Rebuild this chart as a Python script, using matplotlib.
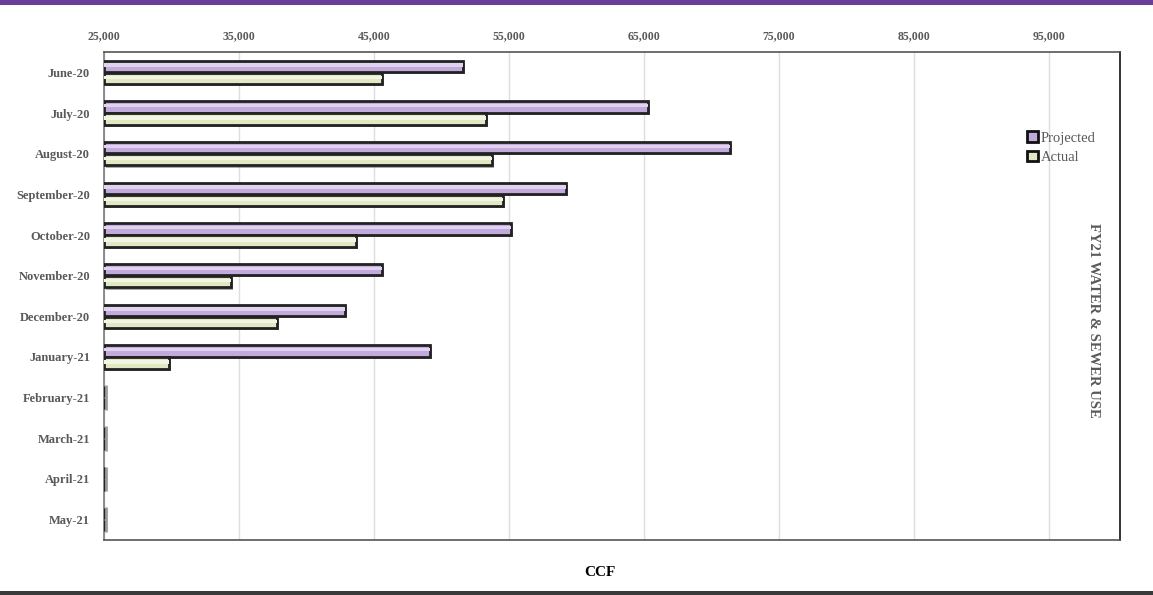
import numpy as np
import matplotlib
matplotlib.use("Agg")
import matplotlib.pyplot as plt
import matplotlib.patheffects as pe
from matplotlib.ticker import FuncFormatter

months = ["June-20", "July-20", "August-20", "September-20", "October-20",
          "November-20", "December-20", "January-21", "February-21",
          "March-21", "April-21", "May-21"]
projected = [51600, 65300, 71370, 59200, 55150, 45600, 42850, 49150, 0, 0, 0, 0]
actual = [45600, 53300, 53740, 54550, 43670, 34400, 37800, 29800, 0, 0, 0, 0]
x_ticks = [25000, 35000, 45000, 55000, 65000, 75000, 85000, 95000]

base = 25000
serif = ["Liberation Serif", "DejaVu Serif"]
grey_txt = "#595959"

fig = plt.figure(figsize=(11.53, 5.95), dpi=100)
ax = fig.add_axes([104 / 1153, 1 - 540 / 595, 1016 / 1153, 488 / 595])

y = np.arange(len(months))
h = 0.28
off = 0.15
shadow = [pe.SimplePatchShadow(offset=(1.5, -1.5), alpha=0.45), pe.Normal()]

p_w = [max(v - base, 0) for v in projected]
a_w = [max(v - base, 0) for v in actual]
bp = ax.barh(y - off, p_w, height=h, left=base, color="#c2abdc",
             edgecolor="#222222", linewidth=2, label="Projected", zorder=3)
ba = ax.barh(y + off, a_w, height=h, left=base, color="#e2e7c4",
             edgecolor="#222222", linewidth=2, label="Actual", zorder=3)
for b in list(bp) + list(ba):
    b.set_path_effects(shadow)

# light highlight strip inside each bar
ax.barh(y - off - 0.03, p_w, height=h * 0.3, left=base, color="#e0d3ef",
        linewidth=0, zorder=4)
ax.barh(y + off - 0.03, a_w, height=h * 0.3, left=base, color="#f3f5e4",
        linewidth=0, zorder=4)

# stubs for months without data
for i in range(len(months)):
    if projected[i] == 0:
        ax.plot([base + 120, base + 120], [i - 0.3, i + 0.3], color="#9a9a9a",
                lw=2, zorder=3, solid_capstyle="butt")

ax.set_xlim(base, 100250)
ax.set_ylim(len(months) - 0.5, -0.5)
ax.set_xticks(x_ticks)
ax.xaxis.set_major_formatter(FuncFormatter(lambda v, p: f"{int(v):,}"))
ax.xaxis.tick_top()
ax.tick_params(axis="x", length=0, pad=7, labelsize=8.5, labelcolor=grey_txt)
ax.tick_params(axis="y", length=0, pad=10, labelsize=9, labelcolor=grey_txt)
ax.set_yticks(y)
ax.set_yticklabels(months)
for t in ax.get_xticklabels() + ax.get_yticklabels():
    t.set_fontfamily(serif)
    t.set_fontweight("bold")

ax.grid(axis="x", color="#dedede", lw=1, zorder=0)
ax.set_axisbelow(True)
ax.spines["left"].set_color("#7a7a7a")
ax.spines["top"].set_color("#555555")
ax.spines["right"].set_color("#111111")
ax.spines["bottom"].set_color("#555555")
for s in ax.spines.values():
    s.set_linewidth(1.2)

leg = ax.legend(handles=[bp, ba], loc="upper left",
                bbox_to_anchor=(1020 / 1153, 1 - 124 / 595),
                bbox_transform=fig.transFigure, frameon=False,
                handlelength=0.7, handleheight=0.7, handletextpad=0.2,
                labelspacing=0.45, borderpad=0,
                prop={"family": serif, "size": 10.5})
for t in leg.get_texts():
    t.set_color(grey_txt)
for hnd in leg.legend_handles:
    hnd.set_path_effects([])
    hnd.set_edgecolor("#111111")
    hnd.set_linewidth(2)

fig.text(1093 / 1153, 1 - 320 / 595, "FY21 WATER & SEWER USE", rotation=-90,
         ha="center", va="center", fontsize=10.5, fontweight="bold",
         color=grey_txt, family=serif)
fig.text(600 / 1153, 1 - 573 / 595, "CCF", ha="center", va="center",
         fontsize=11, fontweight="bold", color="black", family=serif)

# frame bands
fig.add_artist(plt.Rectangle((0, 1 - 5 / 595), 1, 5 / 595,
                             transform=fig.transFigure, color="#6a3d9a", lw=0))
fig.add_artist(plt.Rectangle((0, 0), 1, 4 / 595, transform=fig.transFigure,
                             color="#3a3a3a", lw=0))

fig.savefig("out.png", dpi=100)
